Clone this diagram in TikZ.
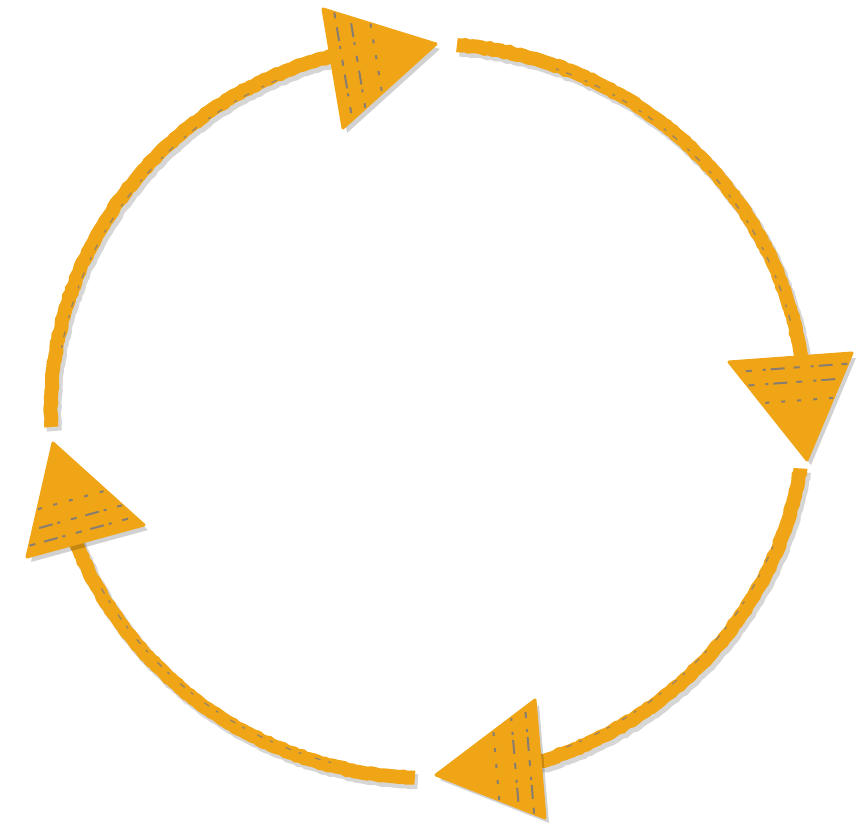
\documentclass[tikz,border=0pt]{standalone}
\usetikzlibrary{calc, decorations.pathmorphing}
\definecolor{marker}{RGB}{240,165,22}
\definecolor{smudge}{RGB}{118,118,130}
\tikzset{
    shaft/.style={
        draw=marker,
        line width=14pt,
        decorate,
        decoration={random steps, segment length=4pt, amplitude=0.7pt},
        preaction={draw=black, draw opacity=.16, line width=15pt,
            transform canvas={xshift=3pt, yshift=-4pt}}
    },
    head/.style={
        fill=marker,
        draw=marker,
        line width=3pt,
        line join=round,
        preaction={fill=black, fill opacity=.18,
            transform canvas={xshift=4pt, yshift=-5pt}}
    },
    streak/.style={
        draw=smudge,
        line width=2pt,
        draw opacity=.85,
        dash pattern=on 6pt off 9pt on 14pt off 5pt on 3pt off 11pt
    },
    speck/.style={
        draw=smudge,
        line width=1.3pt,
        draw opacity=.7,
        dash pattern=on 3pt off 8pt on 6pt off 14pt
    }
}
\pgfmathsetseed{7}

\begin{document}
\begin{tikzpicture}[x=1pt, y=1pt]
\useasboundingbox (0,0) rectangle (864,829);

\coordinate (c) at (428,418);

% arrow heads
\coordinate (northTip) at (436,785); \coordinate (northA) at (323,820); \coordinate (northB) at (343,701);
\coordinate (eastTip) at (807,369); \coordinate (eastA) at (852,476); \coordinate (eastB) at (729,467);
\coordinate (southTip) at (436,54); \coordinate (southA) at (545,11); \coordinate (southB) at (535,129);
\coordinate (westTip) at (53,386); \coordinate (westA) at (27,272); \coordinate (westB) at (144,304);

% shafts, clockwise
\draw [shaft] ($(c)+(182.5:377 and 367)$) arc[start angle=182.5, end angle=100, x radius=377, y radius=367];
\draw [shaft] ($(c)+(85.6:377 and 367)$) arc[start angle=85.6, end angle=4, x radius=377, y radius=367];
\draw [shaft] ($(c)+(-9:377 and 367)$) arc[start angle=-9, end angle=-78, x radius=377, y radius=367];
\draw [shaft] ($(c)+(268:377 and 367)$) arc[start angle=268, end angle=196, x radius=377, y radius=367];

\draw [speck] ($(c)+(170:372 and 362)$) arc[start angle=170, end angle=112, x radius=372, y radius=362];
\draw [speck] ($(c)+(70:374 and 364)$) arc[start angle=70, end angle=14, x radius=374, y radius=364];
\draw [speck] ($(c)+(-22:372 and 362)$) arc[start angle=-22, end angle=-70, x radius=372, y radius=362];
\draw [speck] ($(c)+(255:374 and 364)$) arc[start angle=255, end angle=208, x radius=374, y radius=364];

\draw [head] (northA) -- (northTip) -- (northB) -- cycle;
\draw [head] (eastA) -- (eastTip) -- (eastB) -- cycle;
\draw [head] (southA) -- (southTip) -- (southB) -- cycle;
\draw [head] (westA) -- (westTip) -- (westB) -- cycle;

% smudges inside the heads
\foreach \h in {north, east, south, west} {
    \draw [streak] ($(\h A)!.1!(\h Tip)$) -- ($(\h B)!.1!(\h Tip)$);
    \draw [streak, dash phase=9pt] ($(\h A)!.24!(\h Tip)$) -- ($(\h B)!.24!(\h Tip)$);
    \draw [streak, dash pattern=on 4pt off 12pt] ($(\h A)!.42!(\h Tip)$) -- ($(\h B)!.42!(\h Tip)$);
}

\end{tikzpicture}
\end{document}
